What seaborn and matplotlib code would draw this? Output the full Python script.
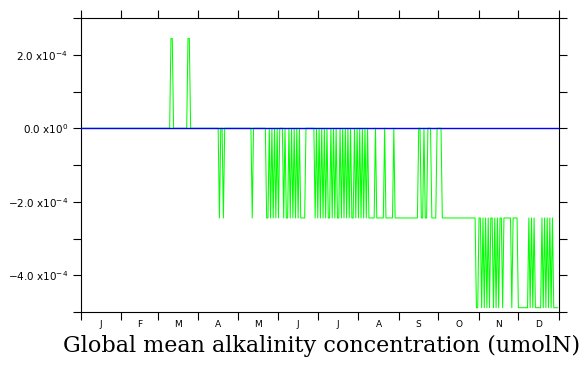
import numpy as np
import pandas as pd
import matplotlib
matplotlib.use("Agg")
import matplotlib.pyplot as plt
import seaborn as sns
from matplotlib.ticker import FixedLocator, FixedFormatter, NullFormatter

# ---- data: daily global-mean anomaly, in units of one float32 step (2**-12 umolN)
unit = 2.0 ** -12
month_names = ["J", "F", "M", "A", "M", "J", "J", "A", "S", "O", "N", "D"]
month_days = [31, 28, 31, 30, 31, 30, 31, 31, 30, 31, 30, 31]

jan = [0, 0, 0, 0, 0, 0, 0, 0, 0, 0, 0, 0, 0, 0, 0, 0, 0, 0, 0, 0, 0, 0, 0, 0, 0, 0, 0, 0, 0, 0, 0]
feb = [0, 0, 0, 0, 0, 0, 0, 0, 0, 0, 0, 0, 0, 0, 0, 0, 0, 0, 0, 0, 0, 0, 0, 0, 0, 0, 0, 0]
mar = [0, 0, 0, 0, 0, 0, 0, 0, 0, 0, 1, 1, 0, 0, 0, 0, 0, 0, 0, 0, 0, 0, 0, 1, 1, 0, 0, 0, 0, 0, 0]
apr = [0, 0, 0, 0, 0, 0, 0, 0, 0, 0, 0, 0, 0, 0, 0, 0, -1, 0, 0, -1, 0, 0, 0, 0, 0, 0, 0, 0, 0, 0]
may = [0, 0, 0, 0, 0, 0, 0, 0, 0, 0, 0, -1, 0, 0, 0, 0, 0, 0, 0, 0, 0, 0,
       -1, -1, 0, -1, 0, -1, 0, -1, 0]
jun = [-1, 0, 0, 0, -1, 0, -1, -1, 0, -1, 0, -1, 0, -1, 0, -1, 0, -1, -1, -1,
       -1, 0, 0, 0, 0, 0, 0, 0, -1, 0]
jul = [-1, 0, -1, 0, -1, 0, -1, 0, -1, -1, 0, -1, 0, -1, 0, -1, -1, 0, -1, 0,
       -1, 0, -1, 0, -1, 0, -1, -1, 0, -1, 0]
aug = [-1, 0, -1, 0, -1, 0, -1, 0, -1, -1, -1, -1, -1, 0, -1, -1, -1, -1, -1, -1,
       0, -1, -1, -1, -1, -1, -1, 0, -1, -1, -1]
sep = [-1, -1, -1, -1, -1, -1, -1, -1, -1, -1, -1, -1, -1, -1, -1,
       0, 0, -1, -1, 0, -1, -1, 0, 0, 0, -1, -1, -1, -1, 0]
oct_ = [0, 0, 0, -1, -1, -1, -1, -1, -1, -1, -1, -1, -1, -1, -1, -1, -1, -1, -1, -1,
        -1, -1, -1, -1, -1, -1, -1, -1, -1, -2, -2]
nov = [-1, -1, -2, -1, -2, -1, -2, -1, -2, -1, -1, -2, -1, -2, -1, -2, -1, -1, -2, -1,
       -1, -1, -1, -1, -1, -2, -1, -1, -1, -1]
dec = [-2, -2, -2, -2, -2, -2, -2, -2, -1, -2, -1, -2, -1, -2, -2, -2, -2, -2, -1, -2,
       -1, -2, -1, -2, -1, -2, -1, -2, -2, -2, -2]

y_major = [-4e-4, -2e-4, 0.0, 2e-4]
y_major_labels = ["\u22124.0 x10$^{-4}$", "\u22122.0 x10$^{-4}$", "0.0 x10$^{0}$", "2.0 x10$^{-4}$"]
y_minor = [-5e-4, -3e-4, -1e-4, 1e-4, 3e-4]
title = "Global mean alkalinity concentration (umolN)"

levels = jan + feb + mar + apr + may + jun + jul + aug + sep + oct_ + nov + dec
df = pd.DataFrame({"day": np.arange(len(levels)), "value": np.array(levels) * unit})

sns.set_style("white")
plt.rcParams["font.family"] = ["DejaVu Sans"]
plt.rcParams["text.color"] = "black"
plt.rcParams["xtick.color"] = "black"
plt.rcParams["ytick.color"] = "black"

fig = plt.figure(figsize=(5.85, 3.65), dpi=100)
ax = fig.add_axes([80.5 / 585, 53 / 365, 478.5 / 585, 294 / 365])

sns.lineplot(data=df, x="day", y="value", ax=ax, color="#00ff00", lw=0.75,
             estimator=None, zorder=2)
ax.axhline(0.0, color="#0000ff", lw=1.0, zorder=3)

ax.set_xlim(0, 365)
ax.set_ylim(-5e-4, 3e-4)

bounds = np.concatenate([[0], np.cumsum(month_days)])
centers = (bounds[:-1] + bounds[1:]) / 2
ax.xaxis.set_major_locator(FixedLocator(bounds))
ax.xaxis.set_major_formatter(NullFormatter())
ax.xaxis.set_minor_locator(FixedLocator(centers))
ax.xaxis.set_minor_formatter(FixedFormatter(month_names))

ax.yaxis.set_major_locator(FixedLocator(y_major))
ax.yaxis.set_major_formatter(FixedFormatter(y_major_labels))
ax.yaxis.set_minor_locator(FixedLocator(y_minor))
ax.yaxis.set_minor_formatter(NullFormatter())

ax.tick_params(axis="both", which="major", direction="out", length=6, width=0.8,
               color="black", labelcolor="black", top=True, right=True, bottom=True, left=True)
ax.tick_params(axis="y", which="minor", direction="out", length=6, width=0.8,
               color="black", left=True, right=True)
ax.tick_params(axis="x", which="minor", length=0, labelsize=6.5, pad=6, labelcolor="black")
ax.tick_params(axis="y", which="major", labelsize=7.5, pad=3)

ax.set_xlabel("")
ax.set_ylabel("")
for s in ax.spines.values():
    s.set_color("black")
    s.set_linewidth(0.8)
    s.set_visible(True)

fig.text(322 / 585, 1 - 346 / 365, title, ha="center", va="center",
         fontsize=16, family=["DejaVu Serif"], color="black")

fig.savefig("out.png", dpi=100)
